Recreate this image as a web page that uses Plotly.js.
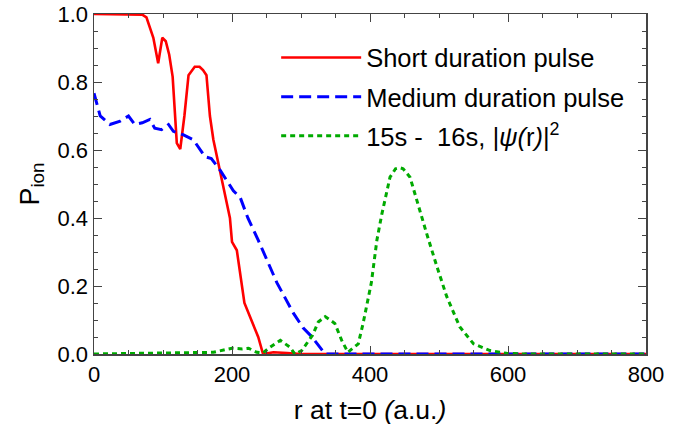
<!DOCTYPE html>
<html>
<head>
<meta charset="utf-8">
<script src="https://cdn.plot.ly/plotly-3.0.1.min.js"></script>
<style>html,body{margin:0;padding:0;background:#fff;}#chart{width:685px;height:438px;}</style>
</head>
<body>
<div id="chart"></div>
<script>
// Short duration pulse
var shortX = [0, 60, 70, 76, 86, 93, 99, 104, 109, 114, 120, 125, 131, 137, 146, 153, 158, 163, 168, 173, 197, 200, 207, 218, 230, 238, 245, 260, 280, 300, 800];
var shortY = [1, 1, 0.998, 0.99, 0.93, 0.855, 0.93, 0.92, 0.88, 0.815, 0.62, 0.603, 0.70, 0.82, 0.845, 0.845, 0.835, 0.82, 0.70, 0.63, 0.40, 0.33, 0.305, 0.15, 0.09, 0.05, 0.0, 0.005, 0.003, 0, 0];
// Medium duration pulse
var mediumX = [0, 9, 23, 38, 50, 59, 70, 81, 88, 98, 108, 115, 129, 144, 161, 170, 183, 202, 212, 223, 238, 265, 289, 303, 316, 335, 800];
var mediumY = [0.767, 0.70, 0.675, 0.685, 0.70, 0.675, 0.68, 0.69, 0.664, 0.66, 0.675, 0.655, 0.645, 0.63, 0.58, 0.575, 0.54, 0.48, 0.46, 0.40, 0.335, 0.21, 0.12, 0.077, 0.05, 0, 0];
// 15s - 16s |psi(r)|^2
var psiX = [0, 173, 200, 215, 224, 236, 245, 255, 270, 284, 291, 301, 317, 325, 335, 349, 359, 368, 383, 390, 397, 402, 410, 417, 429, 437, 443, 448, 458, 468, 482, 497, 511, 530, 550, 574, 598, 620, 800];
var psiY = [0, 0.005, 0.017, 0.015, 0.017, 0.005, 0.003, 0.02, 0.04, 0.02, 0.0, 0.01, 0.056, 0.094, 0.11, 0.09, 0.04, 0.005, 0.03, 0.09, 0.16, 0.21, 0.335, 0.41, 0.52, 0.545, 0.548, 0.545, 0.52, 0.45, 0.355, 0.257, 0.17, 0.08, 0.03, 0.01, 0.002, 0, 0];

var seriesNames = ['Short duration pulse', 'Medium duration pulse', '15s -  16s, <i>|\u03c8(</i>r<i>)</i>|<sup>2</sup>'];

var traces = [
  {x: shortX, y: shortY, name: seriesNames[0], type: 'scatter', mode: 'lines', legendgroup: 'a',
   line: {color: '#ff0000', width: 2.6}},
  {x: mediumX, y: mediumY, name: seriesNames[1], type: 'scatter', mode: 'lines', legendgroup: 'b',
   line: {color: '#0000ff', width: 3, dash: '12px,6px'}},
  {x: psiX, y: psiY, name: seriesNames[2], type: 'scatter', mode: 'lines', legendgroup: 'c',
   line: {color: '#00aa00', width: 3, dash: '5px,4px'}}
];

var font = 'Liberation Sans, Arial, Helvetica, sans-serif';
var layout = {
  width: 685, height: 438,
  margin: {l: 94, r: 39, t: 14, b: 84},
  paper_bgcolor: '#fff', plot_bgcolor: '#fff',
  font: {family: font, color: '#000', size: 22},
  showlegend: true,
  legend: {x: 0.33, y: 0.94, xanchor: 'left', yanchor: 'top', bgcolor: 'rgba(0,0,0,0)',
           font: {size: 25.5, family: font}, itemwidth: 80, tracegroupgap: 3},
  xaxis: {range: [0, 800], dtick: 200, tick0: 0, ticks: 'inside', ticklen: 8, tickcolor: '#444',
          showline: true, linecolor: '#444', linewidth: 1.5, mirror: 'ticks', showgrid: false, zeroline: false,
          tickfont: {size: 22}, minor: {dtick: 50, ticks: 'inside', ticklen: 4, tickcolor: '#444'},
          title: {text: 'r at t=0 <i>(</i>a.u.<i>)</i>', font: {size: 26.5}, standoff: 14}},
  yaxis: {range: [0, 1], dtick: 0.2, tick0: 0, tickformat: '.1f', ticks: 'inside', ticklen: 8, tickcolor: '#444',
          showline: true, linecolor: '#444', linewidth: 1.5, mirror: 'ticks', showgrid: false, zeroline: false,
          tickfont: {size: 22}, minor: {dtick: 0.05, ticks: 'inside', ticklen: 4, tickcolor: '#444'},
          title: {text: 'P<sub>ion</sub>', font: {size: 27}, standoff: 10}}
};

Plotly.newPlot('chart', traces, layout, {displayModeBar: false, staticPlot: true});
</script>
</body>
</html>
